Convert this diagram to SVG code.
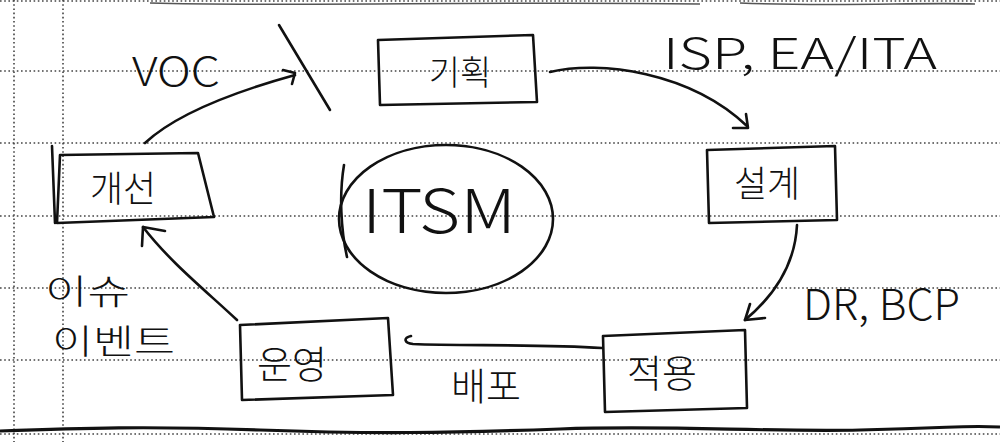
<svg xmlns="http://www.w3.org/2000/svg" width="1000" height="442" viewBox="0 0 1000 442">
<style>
.grid{stroke:#444;stroke-width:1.6;stroke-dasharray:1.6 2.6;fill:none}
.ink{stroke:#111;stroke-width:2.6;fill:none;stroke-linecap:round;stroke-linejoin:round}
.t{font-family:"Noto Sans CJK KR","Noto Sans",sans-serif;fill:#111;font-weight:300}
</style>
<rect width="1000" height="442" fill="#fff"/>
<g id="paper">
<path class="grid" d="M0,1H1000M0,71H1000M0,143H1000M0,216H1000M0,288H1000M0,360H1000M0,434H1000"/>
<path class="grid" d="M14,0V442M63,0V442"/>
<path d="M150,3 C300,7 480,1 700,4 M740,3 C840,7 920,2 975,4" stroke="#555" stroke-width="1.6" fill="none"/>
<path d="M0,431 C80,428 150,426 260,430 S450,433 560,429 S760,432 860,430 S960,425 1000,427" stroke="#111" stroke-width="3.2" fill="none"/>
</g>
<g id="connectors">
<path class="ink" d="M145,143 C175,115 230,93 295,75"/>
<path class="ink" d="M283,70 L295,73 L292,84"/>
<path class="ink" d="M279,25 L330,110"/>
<path class="ink" d="M550,72 C600,60 690,72 747,126"/>
<path class="ink" d="M746,114 L748,128 L733,128"/>
<path class="ink" d="M797,225 C795,265 775,295 745,320"/>
<path class="ink" d="M750,304 L745,320 L765,318"/>
<path class="ink" d="M602,348 C540,344 460,346 413,344 C404,343 403,338 411,336"/>
<path class="ink" d="M237,320 C205,290 170,262 143,227"/>
<path class="ink" d="M142,246 L143,227 L165,231"/>
</g>
<g id="node-plan">
<path class="ink" d="M378,40 L533,35 L537,102 L380,105 Z"/>
<text class="t" x="460" y="85" font-size="34" text-anchor="middle">기획</text>
</g>
<g id="node-design">
<path class="ink" d="M707,150 L835,146 L837,220 L709,223 Z"/>
<text class="t" x="767" y="197" font-size="36" text-anchor="middle">설계</text>
</g>
<g id="node-apply">
<path class="ink" d="M603,336 L745,330 L747,408 L605,412 Z"/>
<text class="t" x="662" y="387" font-size="38" text-anchor="middle">적용</text>
</g>
<g id="node-operate">
<path class="ink" d="M240,325 L388,318 L393,395 L242,400 Z"/>
<text class="t" x="292" y="378" font-size="38" text-anchor="middle">운영</text>
</g>
<g id="node-improve">
<path class="ink" d="M60,155 L198,153 L214,217 L57,223 Z"/>
<path class="ink" d="M52,146 L55,223"/>
<text class="t" x="123" y="202" font-size="36" text-anchor="middle">개선</text>
</g>
<g id="node-itsm">
<ellipse class="ink" cx="446" cy="219" rx="107" ry="74"/>
<path class="ink" d="M344,165 C339,195 341,230 347,257"/>
<text class="t" x="439" y="233" font-size="60" text-anchor="middle" textLength="154" lengthAdjust="spacingAndGlyphs">ITSM</text>
</g>
<g id="labels">
<text class="t" x="132" y="86" font-size="40" textLength="88" lengthAdjust="spacingAndGlyphs">VOC</text>
<text class="t" x="663" y="69" font-size="42" textLength="274" lengthAdjust="spacingAndGlyphs">ISP, EA/ITA</text>
<text class="t" x="803" y="320" font-size="42" textLength="157" lengthAdjust="spacingAndGlyphs">DR, BCP</text>
<text class="t" x="486" y="400" font-size="38" text-anchor="middle">배포</text>
<text class="t" x="45" y="304" font-size="34" textLength="85" lengthAdjust="spacingAndGlyphs">이슈</text>
<text class="t" x="52" y="354" font-size="34" textLength="123" lengthAdjust="spacingAndGlyphs">이벤트</text>
</g>
</svg>
